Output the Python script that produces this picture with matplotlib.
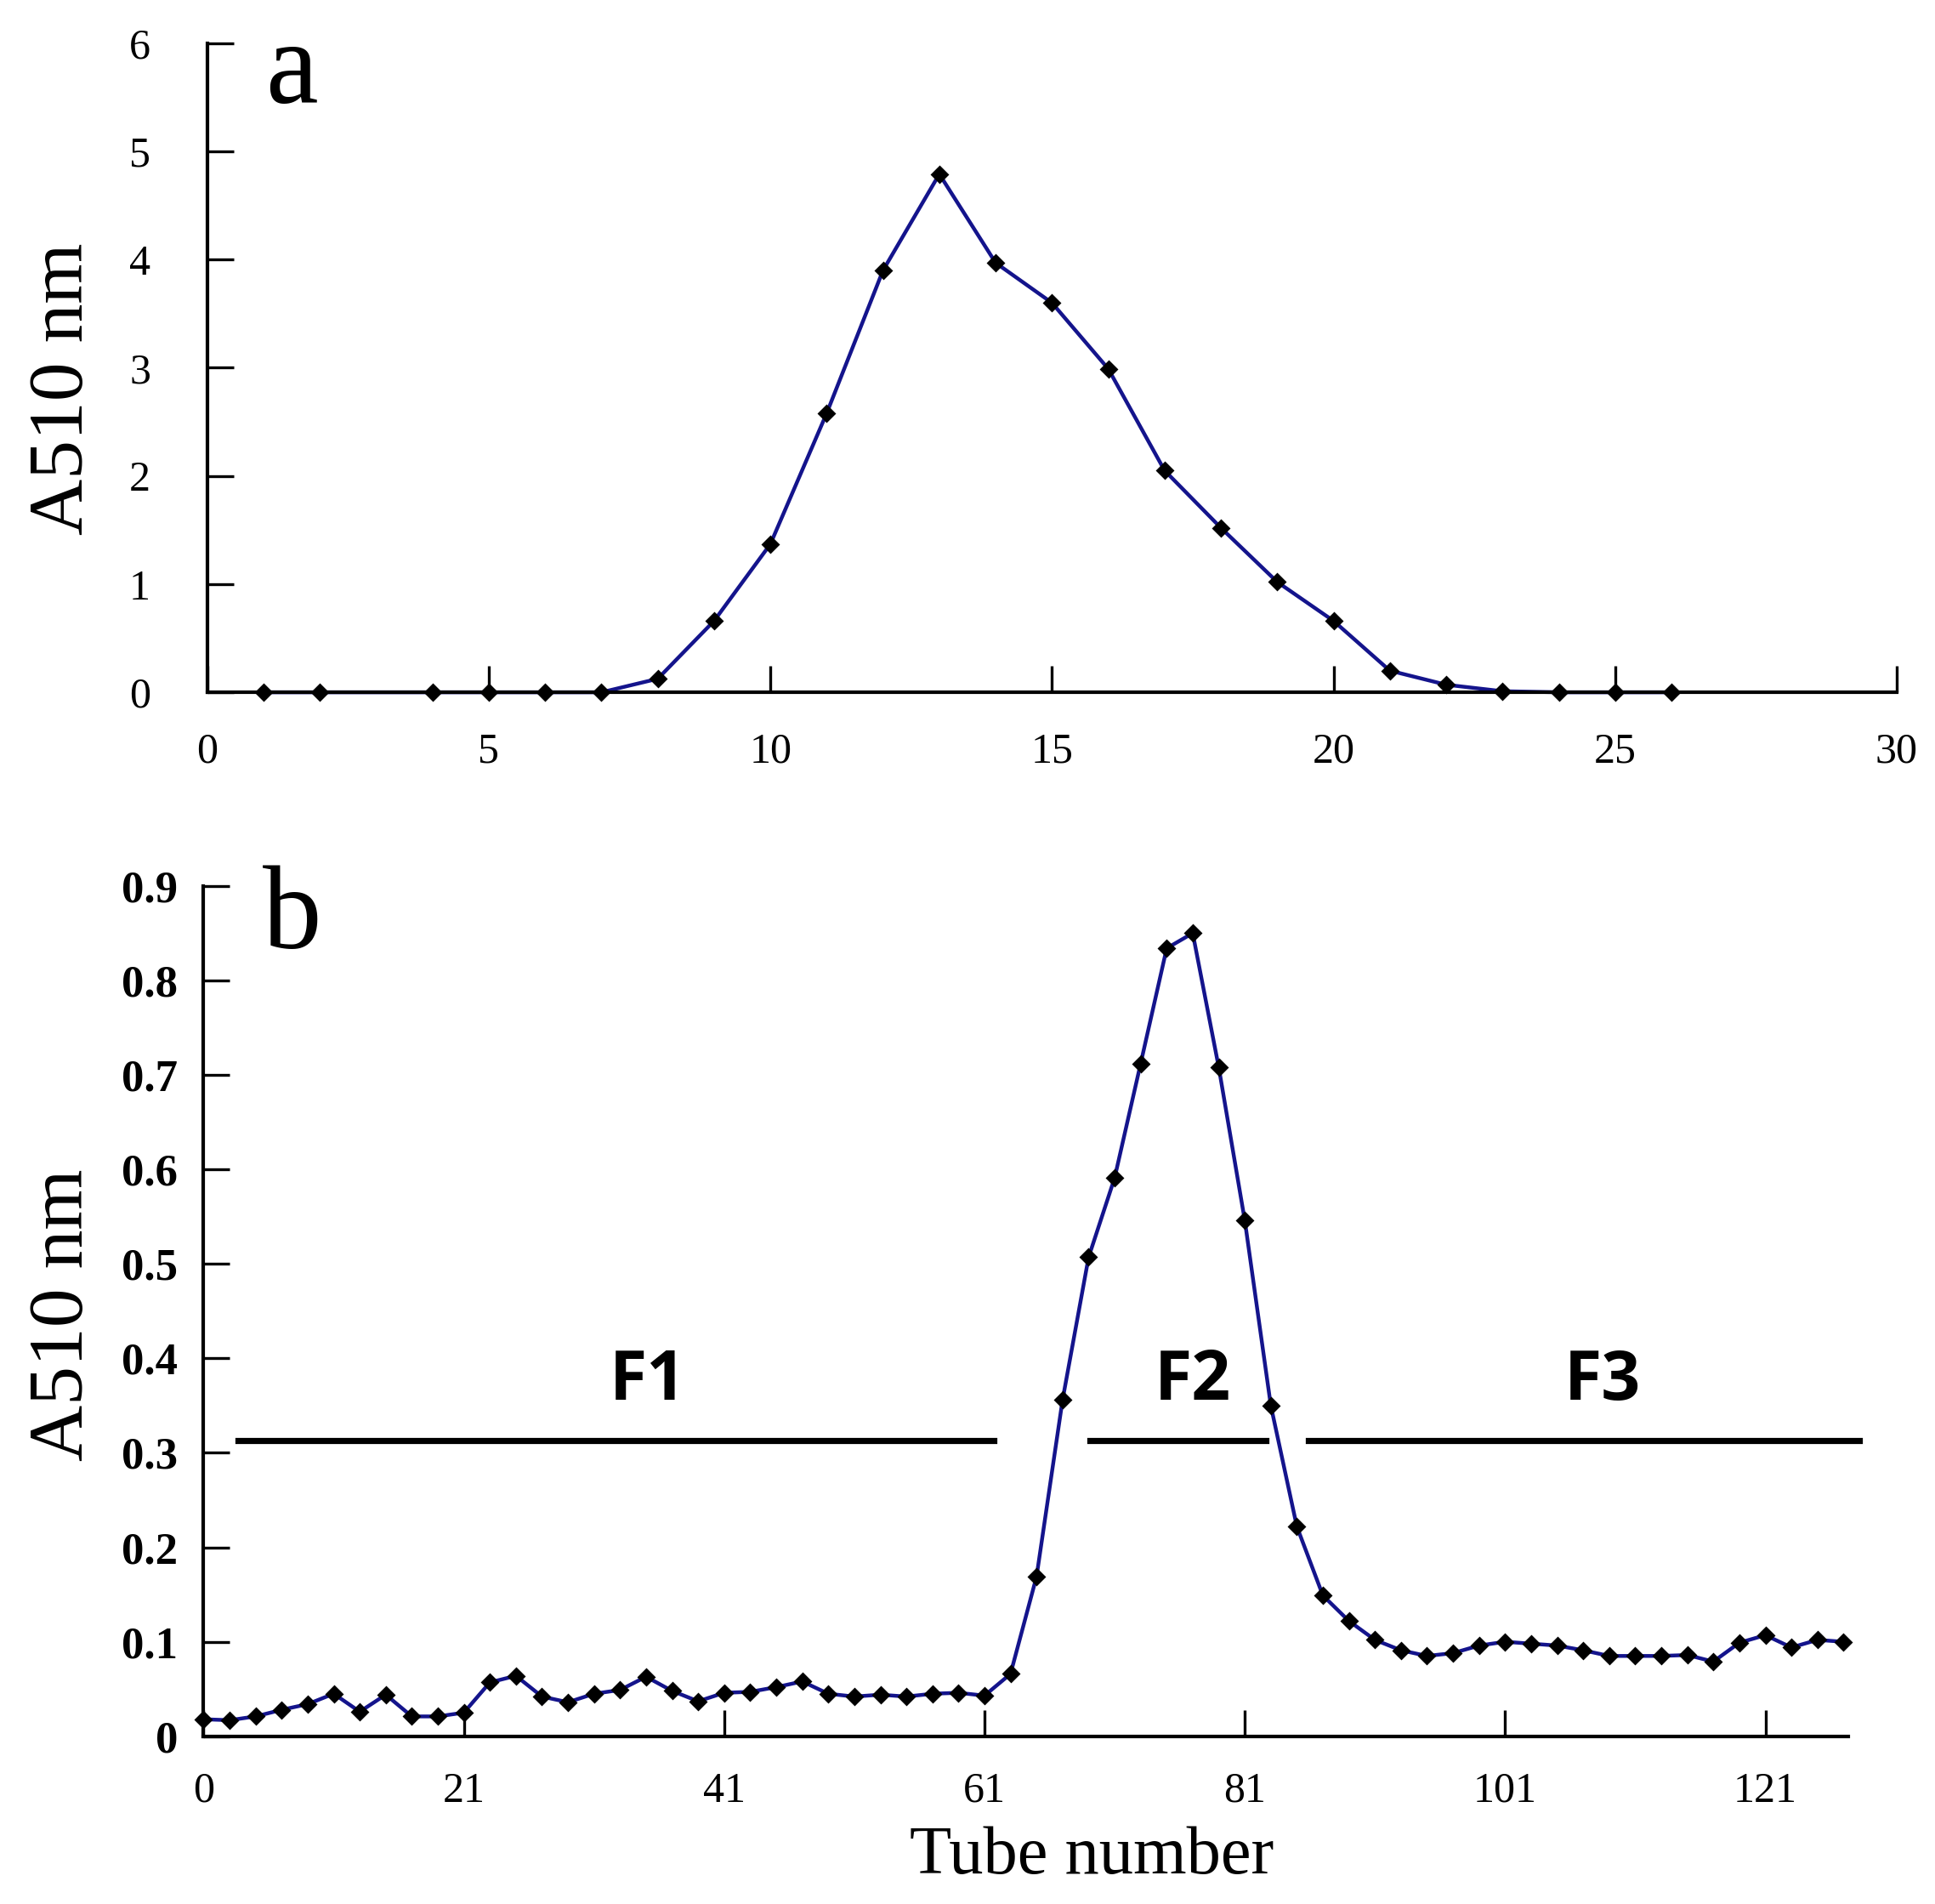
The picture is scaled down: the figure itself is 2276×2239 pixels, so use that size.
import matplotlib.pyplot as plt

# Panel a: tubes and A510 values
tubos_a = [1, 2, 4, 5, 6, 7, 8, 9, 10, 11, 12, 13, 14, 15, 16, 17, 18, 19, 20,
           21, 22, 23, 24, 25, 26]
abs_a = [0, 0, 0, 0, 0, 0, 0.125, 0.66, 1.37, 2.58, 3.90, 4.79, 3.97, 3.60,
         2.99, 2.05, 1.52, 1.02, 0.66, 0.20, 0.07, 0.01, 0, 0, 0]

# Panel b: every second tube
tubos_b = list(range(1, 128, 2))
abs_b = [0.018, 0.017, 0.021, 0.028, 0.034, 0.045, 0.026, 0.044, 0.021, 0.021,
         0.025, 0.057, 0.064, 0.042, 0.036, 0.045, 0.049, 0.063, 0.048, 0.037,
         0.046, 0.047, 0.052, 0.058, 0.045, 0.042, 0.044, 0.042, 0.045, 0.046,
         0.043, 0.066,
         0.169, 0.356, 0.507, 0.591, 0.712, 0.834, 0.850, 0.708, 0.546, 0.350,
         0.222, 0.149, 0.122, 0.102, 0.091,
         0.085, 0.088, 0.096, 0.100, 0.098, 0.096, 0.091, 0.085, 0.085, 0.085,
         0.086, 0.079, 0.099, 0.107, 0.094, 0.102, 0.100]

ticks_a_x = [0, 5, 10, 15, 20, 25, 30]
ticks_a_y = [0, 1, 2, 3, 4, 5, 6]
ticks_b_x = [1, 21, 41, 61, 81, 101, 121]
etiquetas_b_x = ['0', '21', '41', '61', '81', '101', '121']
ticks_b_y = [0, 0.1, 0.2, 0.3, 0.4, 0.5, 0.6, 0.7, 0.8, 0.9]

# Fractions: name, start tube, end tube, label position
fracciones = ['F1', 'F2', 'F3']
inicio_frac = [3.65, 69.1, 85.9]
fin_frac = [61.7, 82.6, 128.2]
centro_frac = [35.1, 77.0, 108.5]
nivel_frac = 0.313

serif = 'Liberation Serif'
azul = '#14148c'

fig = plt.figure(figsize=(11.38, 11.195), dpi=200)
ax_a = fig.add_axes([0.1071, 0.6364, 0.8731, 0.3409])
ax_b = fig.add_axes([0.1052, 0.0881, 0.8502, 0.4466])


def estilo(ax, pad_x, pad_y):
    for lado in ['top', 'right']:
        ax.spines[lado].set_visible(False)
    for lado in ['left', 'bottom']:
        ax.spines[lado].set_linewidth(1.5)
    ax.tick_params(direction='in', length=11, width=1.2)
    ax.tick_params(axis='x', pad=pad_x)
    ax.tick_params(axis='y', pad=pad_y)


# --- panel a ---
ax_a.plot(tubos_a, abs_a, color=azul, lw=1.6, marker='D', ms=4.5,
          mfc='black', mec='black', clip_on=False)
ax_a.set_xlim(0, 30)
ax_a.set_ylim(0, 6)
ax_a.set_xticks(ticks_a_x)
ax_a.set_yticks(ticks_a_y)
estilo(ax_a, 17, 24)
for t in ax_a.get_xticklabels() + ax_a.get_yticklabels():
    t.set_fontfamily(serif)
    t.set_fontsize(18)
ax_a.set_ylabel('A510 nm', fontfamily=serif, fontsize=33, va='center')
ax_a.yaxis.set_label_coords(-0.085, 0.468)
ax_a.text(0.05, 0.952, 'a', transform=ax_a.transAxes, fontfamily=serif,
          fontsize=50, ha='center', va='center')

# --- panel b ---
ax_b.plot(tubos_b, abs_b, color=azul, lw=1.6, marker='D', ms=4.5,
          mfc='black', mec='black', clip_on=False)
ax_b.set_xlim(1, 127.4)
ax_b.set_ylim(0, 0.9)
ax_b.set_xticks(ticks_b_x)
ax_b.set_xticklabels(etiquetas_b_x)
ax_b.set_yticks(ticks_b_y)
ax_b.set_yticklabels(['0'] + ['%.1f' % v for v in ticks_b_y[1:]])
estilo(ax_b, 15, 11)
for t in ax_b.get_xticklabels():
    t.set_fontfamily(serif)
    t.set_fontsize(18)
for t in ax_b.get_yticklabels():
    t.set_fontfamily(serif)
    t.set_fontsize(19)
    t.set_fontweight('bold')
ax_b.set_ylabel('A510 nm', fontfamily=serif, fontsize=33, va='center')
ax_b.yaxis.set_label_coords(-0.085, 0.496)
ax_b.set_xlabel('Tube number', fontfamily=serif, fontsize=29, va='center')
ax_b.xaxis.set_label_coords(0.54, -0.142)
ax_b.text(0.054, 0.96, 'b', transform=ax_b.transAxes, fontfamily=serif,
          fontsize=50, ha='center', va='center')

for nombre, x0, x1, xc in zip(fracciones, inicio_frac, fin_frac, centro_frac):
    ax_b.plot([x0, x1], [nivel_frac, nivel_frac], color='black', lw=2.6,
              clip_on=False)
    ax_b.text(xc, 0.375, nombre, fontfamily='Open Sans', fontweight='bold',
              fontsize=29, ha='center', va='center')

plt.savefig('out.png', dpi=200)
plt.close()
